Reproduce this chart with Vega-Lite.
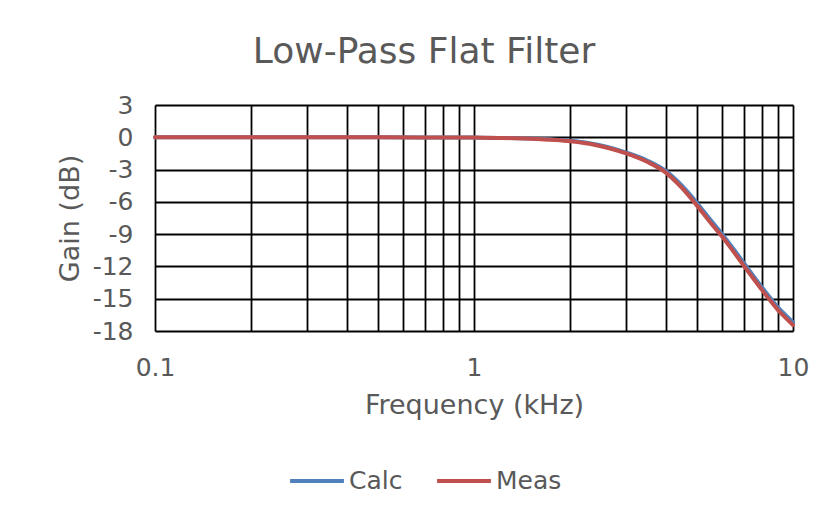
{
  "$schema": "https://vega.github.io/schema/vega-lite/v6.json",
  "width": 638,
  "height": 226,
  "autosize": {"type": "none"},
  "padding": {"left": 155, "top": 105, "right": 30, "bottom": 185},
  "background": "white",
  "title": {
    "text": "Low-Pass Flat Filter",
    "font": "DejaVu Sans",
    "fontSize": 36,
    "fontWeight": "normal",
    "color": "#595959",
    "anchor": "middle",
    "dx": -50,
    "offset": 22
  },
  "config": {
    "view": {"stroke": null},
    "font": "DejaVu Sans"
  },
  "data": {
    "values": [
      {"f": 0.1, "series": "Calc", "gain": 0},
      {"f": 0.2, "series": "Calc", "gain": 0},
      {"f": 0.3, "series": "Calc", "gain": 0},
      {"f": 0.5, "series": "Calc", "gain": 0},
      {"f": 0.7, "series": "Calc", "gain": -0.01},
      {"f": 1, "series": "Calc", "gain": -0.03},
      {"f": 1.2, "series": "Calc", "gain": -0.06},
      {"f": 1.5, "series": "Calc", "gain": -0.12},
      {"f": 1.8, "series": "Calc", "gain": -0.23},
      {"f": 2, "series": "Calc", "gain": -0.33},
      {"f": 2.3, "series": "Calc", "gain": -0.55},
      {"f": 2.6, "series": "Calc", "gain": -0.88},
      {"f": 3, "series": "Calc", "gain": -1.42},
      {"f": 3.5, "series": "Calc", "gain": -2.18},
      {"f": 4, "series": "Calc", "gain": -3.15},
      {"f": 4.5, "series": "Calc", "gain": -4.55},
      {"f": 5, "series": "Calc", "gain": -6.1},
      {"f": 5.5, "series": "Calc", "gain": -7.65},
      {"f": 6, "series": "Calc", "gain": -9.0},
      {"f": 6.5, "series": "Calc", "gain": -10.35},
      {"f": 7, "series": "Calc", "gain": -11.65},
      {"f": 7.5, "series": "Calc", "gain": -12.85},
      {"f": 8, "series": "Calc", "gain": -13.95},
      {"f": 8.5, "series": "Calc", "gain": -14.95},
      {"f": 9, "series": "Calc", "gain": -15.85},
      {"f": 9.5, "series": "Calc", "gain": -16.55},
      {"f": 10, "series": "Calc", "gain": -17.2},
      {"f": 0.1, "series": "Meas", "gain": 0},
      {"f": 0.2, "series": "Meas", "gain": 0},
      {"f": 0.3, "series": "Meas", "gain": 0},
      {"f": 0.5, "series": "Meas", "gain": 0},
      {"f": 0.7, "series": "Meas", "gain": -0.01},
      {"f": 1, "series": "Meas", "gain": -0.03},
      {"f": 1.2, "series": "Meas", "gain": -0.06},
      {"f": 1.5, "series": "Meas", "gain": -0.13},
      {"f": 1.8, "series": "Meas", "gain": -0.25},
      {"f": 2, "series": "Meas", "gain": -0.36},
      {"f": 2.3, "series": "Meas", "gain": -0.6},
      {"f": 2.6, "series": "Meas", "gain": -0.95},
      {"f": 3, "series": "Meas", "gain": -1.5},
      {"f": 3.5, "series": "Meas", "gain": -2.3},
      {"f": 4, "series": "Meas", "gain": -3.3},
      {"f": 4.5, "series": "Meas", "gain": -4.75},
      {"f": 5, "series": "Meas", "gain": -6.35},
      {"f": 5.5, "series": "Meas", "gain": -7.9},
      {"f": 6, "series": "Meas", "gain": -9.25},
      {"f": 6.5, "series": "Meas", "gain": -10.6},
      {"f": 7, "series": "Meas", "gain": -11.9},
      {"f": 7.5, "series": "Meas", "gain": -13.1},
      {"f": 8, "series": "Meas", "gain": -14.2},
      {"f": 8.5, "series": "Meas", "gain": -15.2},
      {"f": 9, "series": "Meas", "gain": -16.1},
      {"f": 9.5, "series": "Meas", "gain": -16.8},
      {"f": 10, "series": "Meas", "gain": -17.45}
    ]
  },
  "mark": {"type": "line", "strokeWidth": 4, "interpolate": "monotone", "strokeCap": "round"},
  "encoding": {
    "x": {
      "field": "f",
      "type": "quantitative",
      "scale": {"type": "log", "domain": [0.1, 10], "nice": false},
      "axis": {
        "title": "Frequency (kHz)",
        "values": [0.1, 0.2, 0.3, 0.4, 0.5, 0.6, 0.7, 0.8, 0.9, 1, 2, 3, 4, 5, 6, 7, 8, 9, 10],
        "labelExpr": "datum.value == 0.1 ? '0.1' : datum.value == 1 ? '1' : datum.value == 10 ? '10' : ''",
        "grid": true,
        "gridColor": "#000000",
        "gridWidth": 1.8,
        "gridOpacity": 1,
        "domain": false,
        "ticks": false,
        "labelPadding": 24,
        "labelFont": "DejaVu Sans",
        "labelFontSize": 25,
        "labelColor": "#595959",
        "labelOverlap": false,
        "labelFlush": false,
        "titleFont": "DejaVu Sans",
        "titleFontSize": 27,
        "titleFontWeight": "normal",
        "titleColor": "#595959",
        "titlePadding": 12
      }
    },
    "y": {
      "field": "gain",
      "type": "quantitative",
      "scale": {"domain": [-18, 3], "nice": false, "zero": false},
      "axis": {
        "title": "Gain (dB)",
        "values": [3, 0, -3, -6, -9, -12, -15, -18],
        "labelExpr": "'' + datum.value",
        "grid": true,
        "gridColor": "#000000",
        "gridWidth": 1.8,
        "gridOpacity": 1,
        "domain": false,
        "ticks": false,
        "labelPadding": 22,
        "labelFont": "DejaVu Sans",
        "labelFontSize": 25,
        "labelColor": "#595959",
        "labelOverlap": false,
        "labelFlush": false,
        "titleFont": "DejaVu Sans",
        "titleFontSize": 27,
        "titleFontWeight": "normal",
        "titleColor": "#595959",
        "titlePadding": 8
      }
    },
    "color": {
      "field": "series",
      "type": "nominal",
      "scale": {"domain": ["Calc", "Meas"], "range": ["#4F81BD", "#C0504D"]},
      "legend": {
        "title": null,
        "orient": "none",
        "direction": "horizontal",
        "legendX": 133,
        "legendY": 347,
        "symbolType": "stroke",
        "symbolSize": 2900,
        "symbolStrokeWidth": 4,
        "labelFont": "DejaVu Sans",
        "labelFontSize": 25,
        "labelColor": "#595959",
        "labelOffset": 3,
        "columnPadding": 26
      }
    }
  }
}
